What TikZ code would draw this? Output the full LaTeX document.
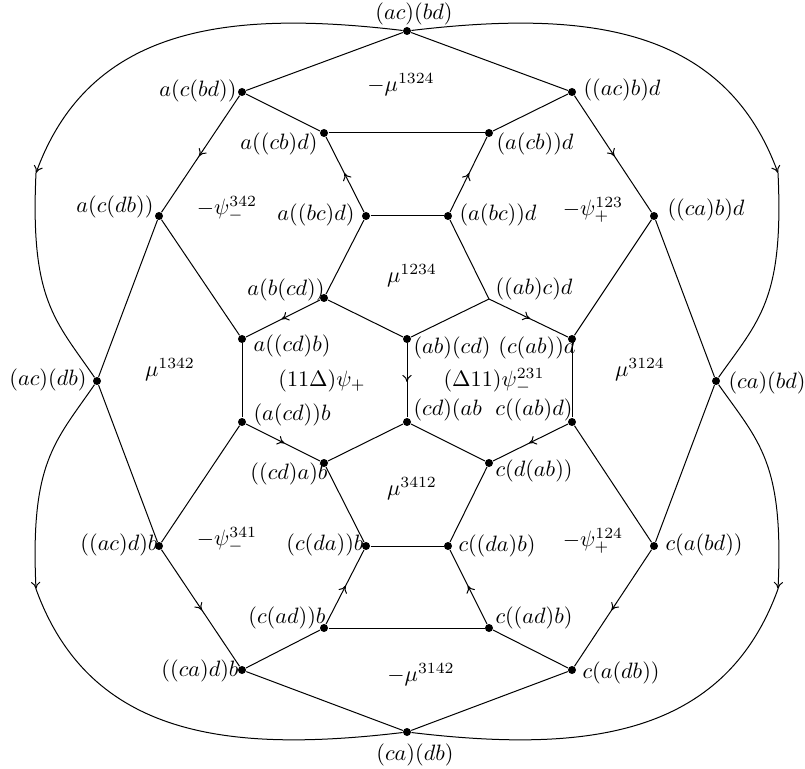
\documentclass[tikz,border=0pt]{standalone}
\usetikzlibrary{arrows.meta,decorations.markings}
\begin{document}
\begin{tikzpicture}[x=0.45pt,y=-0.45pt,
  >={Computer Modern Rightarrow[length=3.2pt,width=4.2pt]},
  every path/.style={line width=0.45pt},
  dot/.style={circle,fill=black,inner sep=0pt,minimum size=3.6pt},
  lab/.style={inner sep=0pt},
  midarrow/.style={postaction={decorate},decoration={markings,mark=at position 0.52 with {\arrow{>}}}}]
\useasboundingbox (0,0) rectangle (805,769);
% vertices
\node[dot] (T) at (407,31) {};
\node[dot] (B) at (407,732) {};
\node[dot] (n1) at (242,92) {};
\node[dot] (n2) at (572,92) {};
\node[dot] (n3) at (324,133) {};
\node[dot] (n4) at (489,133) {};
\node[dot] (n5) at (159,216) {};
\node[dot] (n6) at (366,216) {};
\node[dot] (n7) at (448,216) {};
\node[dot] (n8) at (654,216) {};
\node[dot] (n9) at (324,298) {};
\coordinate (n10) at (489,299);
\node[dot] (n11) at (242,339) {};
\node[dot] (n12) at (407,339) {};
\node[dot] (n13) at (572,339) {};
\node[dot] (L) at (97,381) {};
\node[dot] (R) at (716,381) {};
\node[dot] (n14) at (242,422) {};
\node[dot] (n15) at (407,422) {};
\node[dot] (n16) at (572,422) {};
\node[dot] (n17) at (324,463) {};
\node[dot] (n18) at (489,463) {};
\node[dot] (n19) at (159,546) {};
\node[dot] (n20) at (366,546) {};
\node[dot] (n21) at (448,546) {};
\node[dot] (n22) at (654,546) {};
\node[dot] (n23) at (324,628) {};
\node[dot] (n24) at (489,628) {};
\node[dot] (n25) at (242,670) {};
\node[dot] (n26) at (572,670) {};
\coordinate (c1) at (36,173);
\coordinate (c2) at (36,589);
\coordinate (c3) at (778,173);
\coordinate (c4) at (778,589);
% outer curves
\draw[->] (T) .. controls (230,10) and (90,25) .. (c1);
\draw (c1) .. controls (30,300) and (55,320) .. (L);
\draw[->] (L) .. controls (55,442) and (30,462) .. (c2);
\draw (c2) .. controls (90,738) and (230,753) .. (B);
\draw[->] (T) .. controls (584,10) and (724,25) .. (c3);
\draw (c3) .. controls (784,300) and (759,320) .. (R);
\draw[->] (R) .. controls (759,442) and (784,462) .. (c4);
\draw (c4) .. controls (724,738) and (584,753) .. (B);
% edges
\draw (T) -- (n1);
\draw (T) -- (n2);
\draw (n1) -- (n3);
\draw (n2) -- (n4);
\draw (n3) -- (n4);
\draw[midarrow] (n1) -- (n5);
\draw[midarrow] (n2) -- (n8);
\draw[midarrow] (n6) -- (n3);
\draw[midarrow] (n7) -- (n4);
\draw (n6) -- (n7);
\draw (n6) -- (n9);
\draw (n7) -- (n10);
\draw (n5) -- (n11);
\draw (n5) -- (L);
\draw (n8) -- (n13);
\draw (n8) -- (R);
\draw[midarrow] (n9) -- (n11);
\draw (n9) -- (n12);
\draw (n12) -- (n10);
\draw[midarrow] (n10) -- (n13);
\draw (n11) -- (n14);
\draw[midarrow] (n12) -- (n15);
\draw (n13) -- (n16);
\draw (L) -- (n19);
\draw (R) -- (n22);
\draw[midarrow] (n14) -- (n17);
\draw (n17) -- (n15);
\draw (n15) -- (n18);
\draw[midarrow] (n16) -- (n18);
\draw (n14) -- (n19);
\draw (n16) -- (n22);
\draw (n17) -- (n20);
\draw (n18) -- (n21);
\draw (n20) -- (n21);
\draw[midarrow] (n23) -- (n20);
\draw[midarrow] (n24) -- (n21);
\draw (n23) -- (n24);
\draw (n23) -- (n25);
\draw (n24) -- (n26);
\draw[midarrow] (n19) -- (n25);
\draw[midarrow] (n22) -- (n26);
\draw (n25) -- (B);
\draw (n26) -- (B);
% vertex labels
\node[lab] (tT) at (414,14) {$(ac)(bd)$};
\node[lab] (tB) at (415,755) {$(ca)(db)$};
\node[lab,anchor=east] (t1) at (237,91) {$a(c(bd))$};
\node[lab,anchor=west] (t2) at (583,90) {$((ac)b)d$};
\node[lab,anchor=east] (t3) at (318,144) {$a((cb)d)$};
\node[lab,anchor=west] (t4) at (496,144) {$(a(cb))d$};
\node[lab,anchor=east] (t5) at (154,207) {$a(c(db))$};
\node[lab,anchor=east] (t6) at (355,215) {$a((bc)d)$};
\node[lab,anchor=west] (t7) at (459,215) {$(a(bc))d$};
\node[lab,anchor=west] (t8) at (667,210) {$((ca)b)d$};
\node[lab,anchor=east] (t9) at (325,290) {$a(b(cd))$};
\node[lab,anchor=west] (t10) at (495,289) {$((ab)c)d$};
\node[lab,anchor=west] (t11) at (253,346) {$a((cd)b)$};
\node[lab,anchor=west] (t12) at (413,348) {$(ab)(cd)$};
\node[lab,anchor=east] (t13) at (576,348) {$(c(ab))d$};
\node[lab,anchor=east] (tL) at (87,380) {$(ac)(db)$};
\node[lab,anchor=west] (tR) at (728,383) {$(ca)(bd)$};
\node[lab,anchor=west] (t14) at (253,415) {$(a(cd))b$};
\node[lab,anchor=west] (t15) at (413,410) {$(cd)(ab$};
\node[lab,anchor=east] (t16) at (573,410) {$c((ab)d)$};
\node[lab,anchor=east] (t17) at (328,474) {$((cd)a)b$};
\node[lab,anchor=west] (t18) at (495,471) {$c(d(ab))$};
\node[lab,anchor=east] (t19) at (158,545) {$((ac)d)b$};
\node[lab,anchor=east] (t20) at (364,545) {$(c(da))b$};
\node[lab,anchor=west] (t21) at (458,546) {$c((da)b)$};
\node[lab,anchor=west] (t22) at (665,545) {$c(a(bd))$};
\node[lab,anchor=east] (t23) at (326,618) {$(c(ad))b$};
\node[lab,anchor=west] (t24) at (495,618) {$c((ad)b)$};
\node[lab,anchor=east] (t25) at (239,671) {$((ca)d)b$};
\node[lab,anchor=west] (t26) at (582,673) {$c(a(db))$};
% face labels
\node[lab] (f1) at (401,85) {$-\mu^{1324}$};
\node[lab] (f2) at (227,209) {$-\psi^{342}_{-}$};
\node[lab] (f3) at (593,210) {$-\psi^{123}_{+}$};
\node[lab] (f4) at (412,276) {$\mu^{1234}$};
\node[lab] (f5) at (170,370) {$\mu^{1342}$};
\node[lab] (f6) at (322,381) {$(11\Delta)\psi_{+}$};
\node[lab] (f7) at (494,381) {$(\Delta11)\psi^{231}_{-}$};
\node[lab] (f8) at (640,370) {$\mu^{3124}$};
\node[lab] (f9) at (412,489) {$\mu^{3412}$};
\node[lab] (f10) at (227,540) {$-\psi^{341}_{-}$};
\node[lab] (f11) at (593,541) {$-\psi^{124}_{+}$};
\node[lab] (f12) at (421,675) {$-\mu^{3142}$};
\end{tikzpicture}
\end{document}
